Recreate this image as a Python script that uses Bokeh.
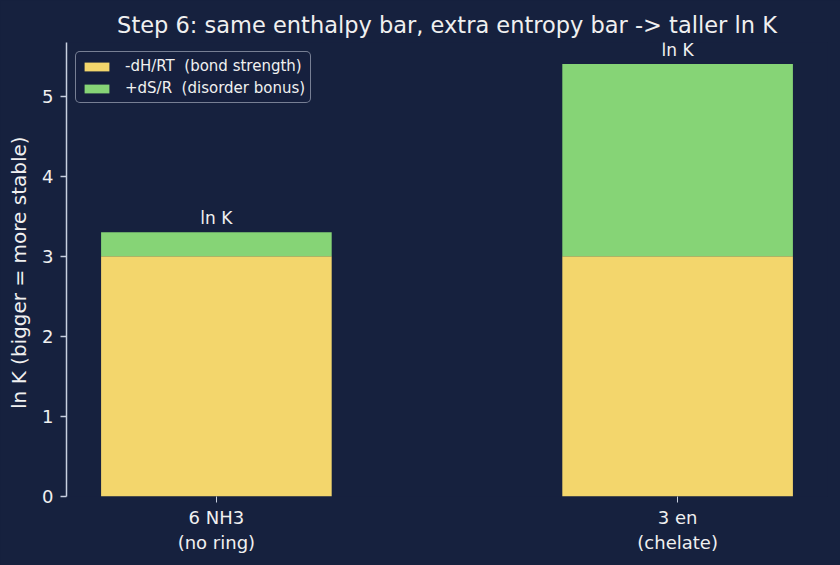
from bokeh.plotting import figure
from bokeh.models import ColumnDataSource, Range1d, FixedTicker, Legend, LegendItem
from bokeh.core.properties import value
from bokeh.embed import file_html
from bokeh.resources import INLINE

categories = ["6 NH3\n(no ring)", "3 en\n(chelate)"]
enthalpy = [3.0, 3.0]
entropy = [0.3, 2.4]
series_labels = ["-dH/RT  (bond strength)", "+dS/R  (disorder bonus)"]
top_label = "ln K"
yticks = [0, 1, 2, 3, 4, 5]

BG = "#16213e"
FG = "#f0f0f0"
AX = "#c8d0e0"
YEL = "#f3d66c"
GRN = "#86d476"
FONT = "DejaVu Sans"

xs = list(range(len(categories)))
totals = [a + b for a, b in zip(enthalpy, entropy)]
src = ColumnDataSource(dict(x=xs, enthalpy=enthalpy, entropy=entropy,
                            total=totals, lab=[top_label] * len(xs)))

ymax = max(totals) * 1.05
p = figure(width=840, height=565, output_backend="svg", toolbar_location=None,
           x_range=Range1d(-0.325, 1.325), y_range=Range1d(0, ymax),
           min_border_left=66, min_border_right=13, min_border_top=42, min_border_bottom=69,
           background_fill_color=BG, border_fill_color=BG)
p.outline_line_color = None
p.styles = {"background-color": BG}

p.title.text = "Step 6: same enthalpy bar, extra entropy bar -> taller ln K"
p.title.align = "center"
p.title.text_color = FG
p.title.text_font = FONT
p.title.text_font_size = "22.5px"
p.title.text_font_style = "normal"

renderers = p.vbar_stack(["enthalpy", "entropy"], x="x", width=0.5, source=src,
                         color=[YEL, GRN], line_color=None)

p.text(x="x", y="total", text="lab", source=src, text_align="center",
       text_baseline="alphabetic", y_offset=-14, text_color=FG,
       text_font=value(FONT), text_font_size="17px")

legend = Legend(items=[LegendItem(label=series_labels[0], renderers=[renderers[0]]),
                       LegendItem(label=series_labels[1], renderers=[renderers[1]])],
                location="top_left")
legend.background_fill_color = BG
legend.background_fill_alpha = 0.8
legend.border_line_color = "#d8deea"
legend.border_line_width = 1.5
legend.border_radius = 5
legend.label_text_color = FG
legend.label_text_font = FONT
legend.label_text_font_size = "15px"
legend.glyph_width = 31
legend.glyph_height = 11
legend.label_height = 18
legend.spacing = 4
legend.padding = 5
legend.margin = 9
legend.label_standoff = 13
p.add_layout(legend)

p.xgrid.visible = False
p.ygrid.visible = False

xa = p.xaxis[0]
xa.ticker = FixedTicker(ticks=xs)
xa.major_label_overrides = {i: c for i, c in enumerate(categories)}
xa.axis_line_color = None
xa.major_tick_line_color = AX
xa.major_tick_out = 6
xa.major_tick_in = 0
xa.minor_tick_line_color = None
xa.major_label_text_color = FG
xa.major_label_text_font = FONT
xa.major_label_text_font_size = "18px"
xa.major_label_standoff = 4

ya = p.yaxis[0]
ya.ticker = FixedTicker(ticks=yticks)
ya.axis_line_color = AX
ya.axis_line_width = 1.5
ya.major_tick_line_color = AX
ya.major_tick_line_width = 1.5
ya.major_tick_out = 6
ya.major_tick_in = 0
ya.minor_tick_line_color = None
ya.major_label_text_color = FG
ya.major_label_text_font = FONT
ya.major_label_text_font_size = "18px"
ya.major_label_standoff = 7
ya.axis_label = "ln K  (bigger = more stable)"
ya.axis_label_text_color = FG
ya.axis_label_text_font = FONT
ya.axis_label_text_font_size = "20px"
ya.axis_label_text_font_style = "normal"
ya.axis_label_standoff = 8

open("out.html", "w").write(file_html(p, INLINE))
